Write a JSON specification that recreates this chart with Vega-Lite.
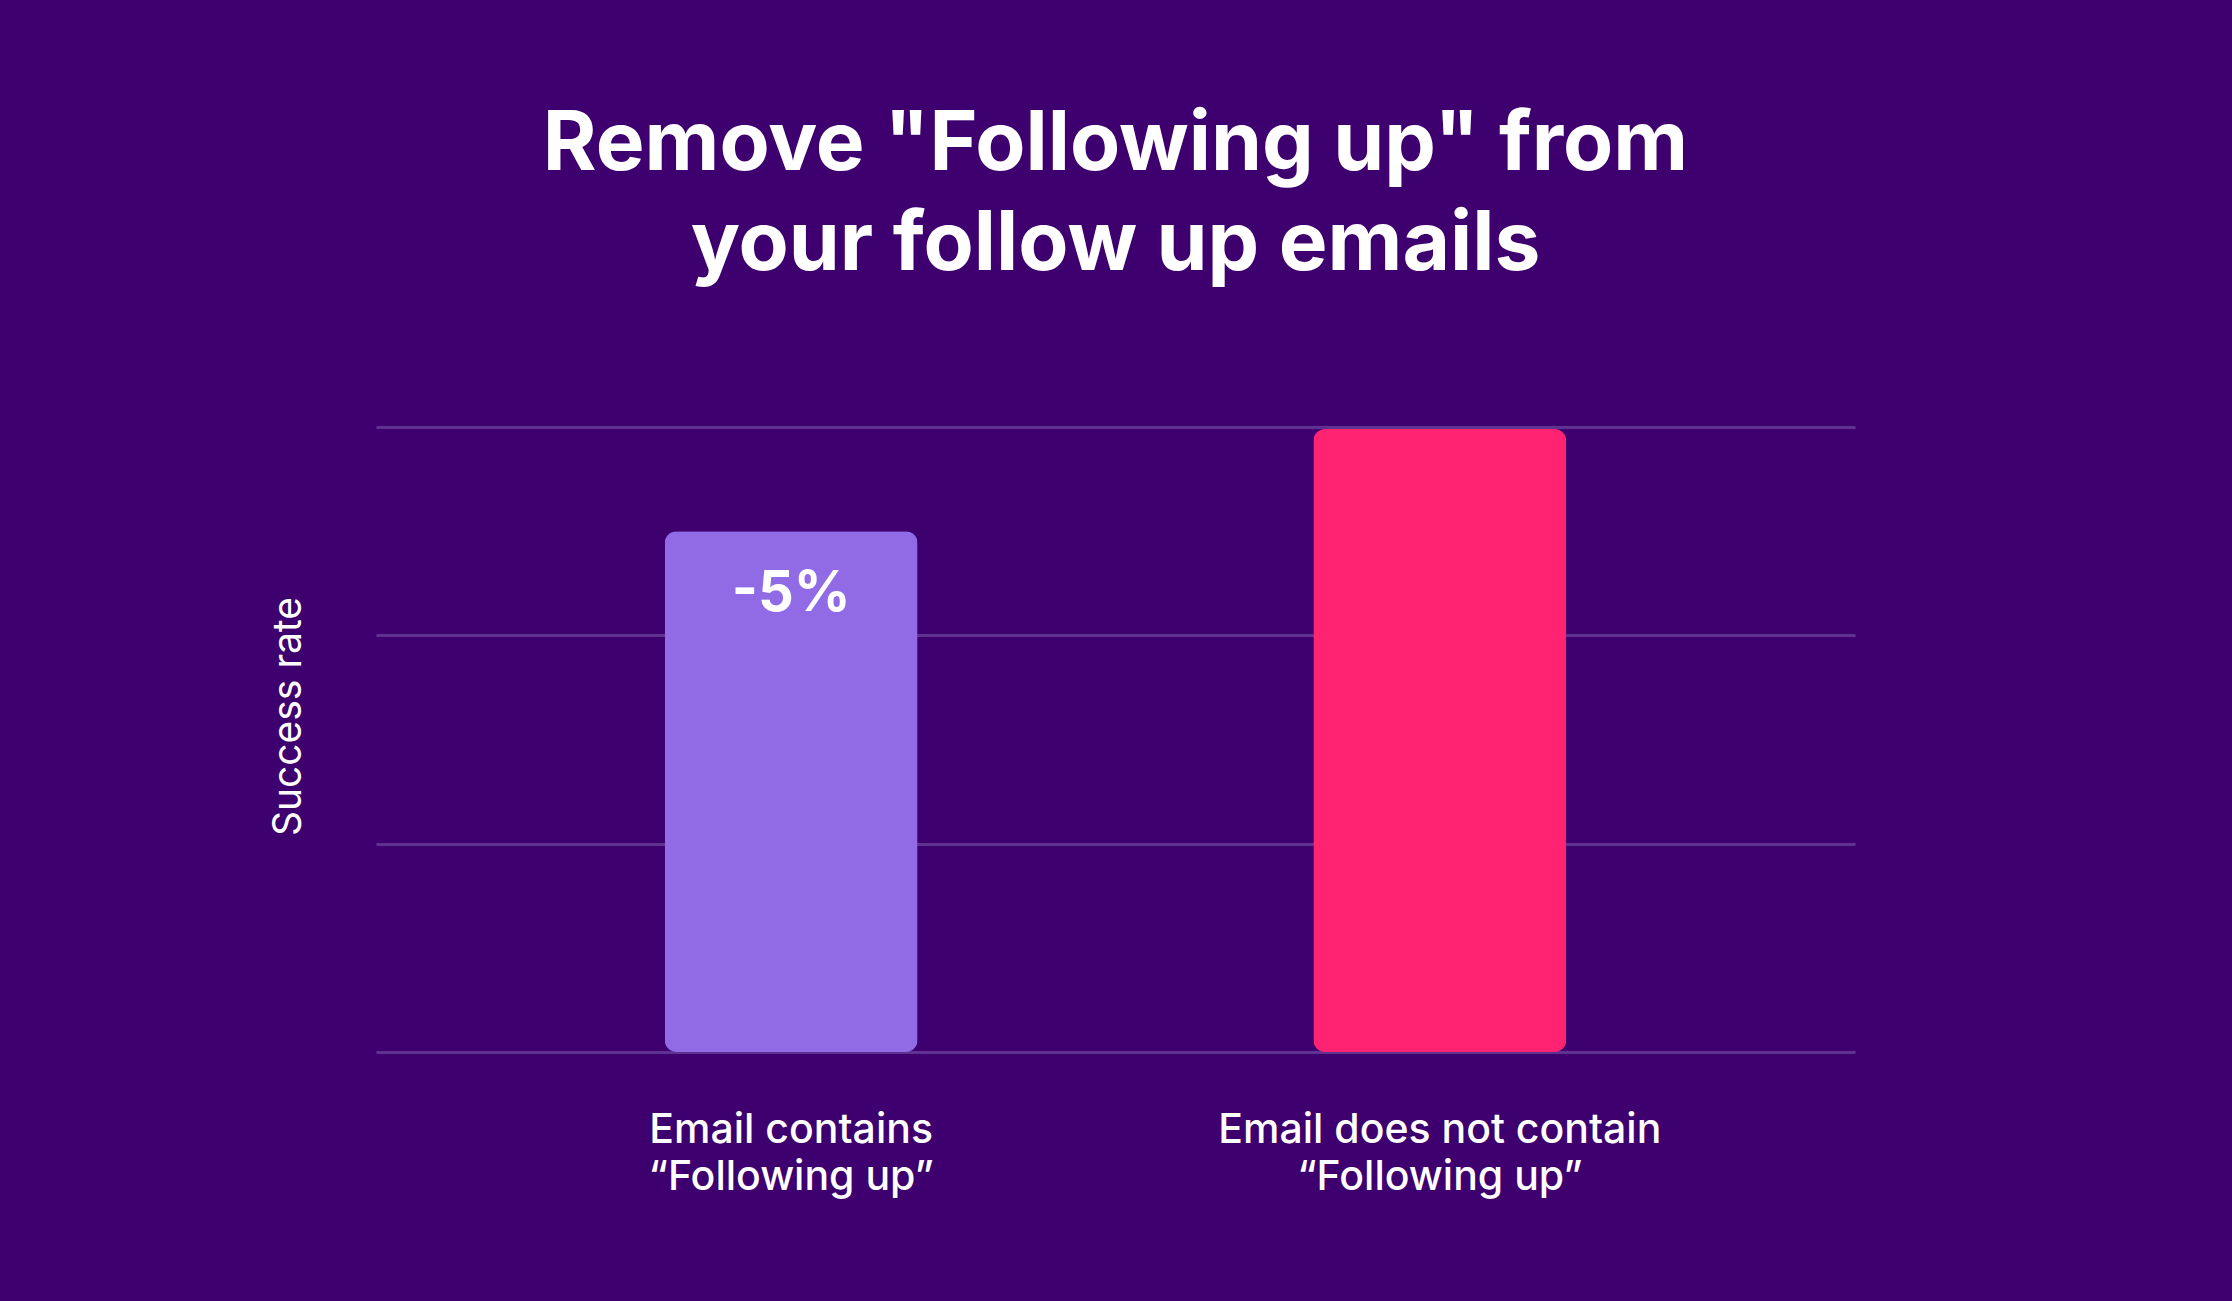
{
  "$schema": "https://vega.github.io/schema/vega-lite/v6.json",
  "width": 1479,
  "height": 625,
  "autosize": {"type": "none"},
  "padding": {"left": 376, "top": 427, "right": 377, "bottom": 249},
  "background": "#3D006E",
  "config": {
    "view": {"stroke": null},
    "font": "Inter"
  },
  "title": {
    "text": ["Remove \"Following up\" from", "your follow up emails"],
    "fontSize": 82,
    "fontWeight": "bold",
    "font": "Inter",
    "color": "#FFFFFF",
    "lineHeight": 100,
    "anchor": "middle",
    "offset": 140
  },
  "data": {
    "values": [
      {"category": "Email contains\n\u201cFollowing up\u201d", "value": 2.5, "label": "-5%"},
      {"category": "Email does not contain\n\u201cFollowing up\u201d", "value": 2.99, "label": ""}
    ]
  },
  "encoding": {
    "x": {
      "field": "category",
      "type": "nominal",
      "sort": null,
      "scale": {"paddingInner": 0.61, "paddingOuter": 0.445},
      "axis": {
        "title": null,
        "domain": false,
        "ticks": false,
        "labelAngle": 0,
        "labelExpr": "split(datum.label, '\\n')",
        "labelFontSize": 41,
        "labelFontWeight": 500,
        "labelLineHeight": 47,
        "labelColor": "#FFFFFF",
        "labelPadding": 58,
        "labelFont": "Inter",
        "labelBaseline": "top",
        "labelLimit": 1000
      }
    },
    "y": {
      "field": "value",
      "type": "quantitative",
      "scale": {"domain": [0, 3]},
      "axis": {
        "title": "Success rate",
        "titleFontSize": 39,
        "titleFontWeight": "normal",
        "titleColor": "#FFFFFF",
        "titleFont": "Inter",
        "titlePadding": 68,
        "titleY": 289,
        "titleAlign": "center",
        "labels": false,
        "ticks": false,
        "domain": false,
        "values": [0, 1, 2, 3],
        "grid": true,
        "gridColor": "#5F3190",
        "gridWidth": 3
      }
    }
  },
  "layer": [
    {
      "mark": {"type": "bar", "cornerRadius": 12},
      "encoding": {
        "color": {
          "field": "category",
          "type": "nominal",
          "sort": null,
          "scale": {"range": ["#906BE5", "#FF2372"]},
          "legend": null
        }
      }
    },
    {
      "mark": {
        "type": "text",
        "baseline": "top",
        "dy": 36,
        "fontSize": 56,
        "fontWeight": "bold",
        "color": "#FFFFFF",
        "font": "Inter"
      },
      "encoding": {"text": {"field": "label"}}
    }
  ]
}
